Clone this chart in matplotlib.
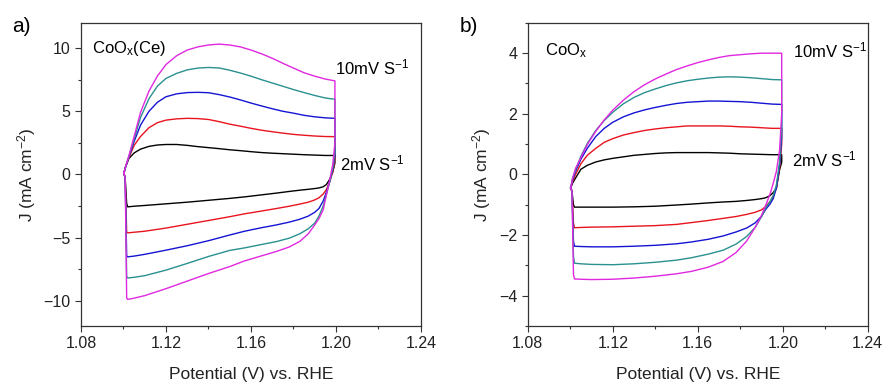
import matplotlib
matplotlib.use("Agg")
import matplotlib.pyplot as plt
from matplotlib.ticker import MultipleLocator

plt.rcParams["font.family"] = ["Liberation Sans", "DejaVu Sans"]
plt.rcParams["mathtext.default"] = "regular"

# potential grid for the anodic (forward) and cathodic (reverse) sweeps, V vs. RHE
V_UP = [1.1002, 1.101, 1.1025, 1.105, 1.108, 1.112, 1.116, 1.12, 1.125, 1.13,
        1.135, 1.14, 1.145, 1.15, 1.155, 1.16, 1.165, 1.17, 1.175, 1.18,
        1.185, 1.19, 1.195, 1.1995]
V_DN = [1.1995, 1.1985, 1.197, 1.1955, 1.194, 1.192, 1.19, 1.187, 1.183, 1.178,
        1.172, 1.165, 1.157, 1.15, 1.14, 1.13, 1.12, 1.11, 1.105, 1.102,
        1.1015, 1.1008]

SCAN_RATES = [2, 4, 6, 8, 10]  # mV/s
COLORS = ["#000000", "#e8141e", "#1414d2", "#2a9090", "#e028e0"]

# CoOx(Ce), current density in mA cm-2
a_up_2 = [0.1, 0.6, 1.25, 1.7, 2.0, 2.22, 2.33, 2.37, 2.37, 2.3, 2.2, 2.12,
          2.04, 1.95, 1.88, 1.8, 1.73, 1.68, 1.64, 1.6, 1.56, 1.53, 1.5, 1.5]
a_up_4 = [0.1, 0.6, 1.3, 2.3, 3.0, 3.7, 4.1, 4.3, 4.4, 4.44, 4.42, 4.35,
          4.18, 3.98, 3.82, 3.65, 3.5, 3.38, 3.27, 3.17, 3.1, 3.04, 3.0, 2.99]
a_up_6 = [0.1, 0.6, 1.35, 2.6, 3.9, 5.0, 5.72, 6.15, 6.38, 6.48, 6.5, 6.47,
          6.32, 6.13, 5.9, 5.65, 5.42, 5.2, 5.0, 4.85, 4.68, 4.56, 4.48, 4.44]
a_up_8 = [0.1, 0.6, 1.4, 2.8, 4.5, 6.0, 7.0, 7.6, 8.0, 8.28, 8.42, 8.47,
          8.43, 8.25, 8.03, 7.78, 7.5, 7.24, 6.98, 6.72, 6.48, 6.25, 6.05, 5.95]
a_up_10 = [0.1, 0.6, 1.45, 3.0, 4.9, 6.6, 7.8, 8.7, 9.4, 9.85, 10.1, 10.25,
           10.32, 10.25, 10.1, 9.85, 9.55, 9.2, 8.8, 8.42, 8.05, 7.78, 7.55, 7.41]

a_dn_2 = [0.9, 0.2, -0.4, -0.8, -0.98, -1.07, -1.12, -1.18, -1.25, -1.35, -1.48,
          -1.62, -1.78, -1.9, -2.05, -2.2, -2.33, -2.46, -2.52, -2.57, -2.3, -0.3]
a_dn_4 = [1.2, 0.2, -0.6, -1.2, -1.55, -1.85, -2.02, -2.2, -2.35, -2.52, -2.7,
          -2.9, -3.12, -3.35, -3.65, -3.95, -4.25, -4.5, -4.58, -4.63, -4.55, -0.3]
a_dn_6 = [1.5, 0.4, -0.6, -1.4, -2.1, -2.7, -3.0, -3.3, -3.55, -3.78, -4.0,
          -4.22, -4.5, -4.8, -5.25, -5.65, -6.0, -6.33, -6.47, -6.53, -6.45, -0.3]
a_dn_8 = [1.8, 0.5, -0.6, -1.6, -2.5, -3.3, -3.85, -4.3, -4.7, -5.05, -5.32,
          -5.55, -5.82, -6.02, -6.5, -7.05, -7.58, -8.02, -8.15, -8.2, -8.1, -0.3]
a_dn_10 = [2.5, 0.8, -0.5, -1.6, -2.8, -3.5, -4.0, -4.7, -5.3, -5.75, -6.1,
           -6.45, -6.85, -7.3, -7.85, -8.45, -9.05, -9.6, -9.8, -9.9, -9.8, -0.3]

# CoOx
b_up_2 = [-0.45, -0.3, -0.12, 0.17, 0.3, 0.41, 0.48, 0.53, 0.58, 0.63, 0.66, 0.69,
          0.71, 0.72, 0.72, 0.72, 0.72, 0.71, 0.7, 0.68, 0.67, 0.66, 0.65, 0.65]
b_up_4 = [-0.45, -0.25, 0.0, 0.35, 0.63, 0.86, 1.06, 1.18, 1.3, 1.38, 1.45, 1.5,
          1.54, 1.57, 1.6, 1.6, 1.6, 1.6, 1.59, 1.57, 1.56, 1.54, 1.52, 1.52]
b_up_6 = [-0.45, -0.2, 0.1, 0.5, 0.86, 1.25, 1.52, 1.72, 1.9, 2.03, 2.13, 2.21,
          2.28, 2.34, 2.38, 2.4, 2.42, 2.42, 2.41, 2.4, 2.38, 2.35, 2.32, 2.31]
b_up_8 = [-0.45, -0.15, 0.15, 0.6, 1.02, 1.45, 1.78, 2.05, 2.33, 2.54, 2.7, 2.82,
          2.93, 3.02, 3.09, 3.14, 3.18, 3.21, 3.22, 3.21, 3.19, 3.16, 3.13, 3.12]
b_up_10 = [-0.45, -0.15, 0.2, 0.55, 0.98, 1.42, 1.8, 2.12, 2.45, 2.73, 2.96, 3.15,
           3.31, 3.46, 3.58, 3.69, 3.78, 3.86, 3.92, 3.95, 3.98, 4.0, 4.0, 4.0]

b_dn_2 = [0.4, 0.15, -0.45, -0.6, -0.7, -0.77, -0.8, -0.83, -0.86, -0.89, -0.91,
          -0.94, -0.98, -1.01, -1.05, -1.07, -1.08, -1.08, -1.08, -1.08, -1.0, -0.55]
b_dn_4 = [1.0, 0.2, -0.45, -0.72, -0.9, -1.06, -1.17, -1.25, -1.32, -1.39, -1.45,
          -1.52, -1.59, -1.65, -1.69, -1.71, -1.73, -1.74, -1.75, -1.76, -1.6, -0.55]
b_dn_6 = [1.2, 0.3, -0.45, -0.8, -0.98, -1.15, -1.38, -1.6, -1.77, -1.9, -2.03,
          -2.14, -2.23, -2.29, -2.34, -2.37, -2.39, -2.39, -2.38, -2.37, -2.2, -0.55]
b_dn_8 = [1.5, 0.4, -0.35, -0.7, -0.9, -1.1, -1.4, -1.75, -2.05, -2.3, -2.5,
          -2.63, -2.75, -2.83, -2.9, -2.95, -2.98, -2.97, -2.95, -2.93, -2.7, -0.55]
b_dn_10 = [2.0, 0.8, 0.1, -0.3, -0.65, -1.02, -1.35, -1.75, -2.2, -2.58, -2.87,
           -3.06, -3.2, -3.28, -3.36, -3.42, -3.46, -3.47, -3.46, -3.45, -3.3, -0.55]

A_UP = [a_up_2, a_up_4, a_up_6, a_up_8, a_up_10]
A_DN = [a_dn_2, a_dn_4, a_dn_6, a_dn_8, a_dn_10]
B_UP = [b_up_2, b_up_4, b_up_6, b_up_8, b_up_10]
B_DN = [b_dn_2, b_dn_4, b_dn_6, b_dn_8, b_dn_10]


def draw_cv(ax, ups, dns):
    # forward sweep, reverse sweep, then close the loop
    for up, dn, c in zip(ups, dns, COLORS):
        v = V_UP + V_DN + [V_UP[0]]
        j = up + dn + [up[0]]
        ax.plot(v, j, color=c, lw=1.0)


def style_axes(ax, ylim, ymajor, yminor):
    ax.set_xlim(1.08, 1.24)
    ax.set_ylim(*ylim)
    ax.xaxis.set_major_locator(MultipleLocator(0.04))
    ax.xaxis.set_minor_locator(MultipleLocator(0.02))
    ax.yaxis.set_major_locator(MultipleLocator(ymajor))
    ax.yaxis.set_minor_locator(MultipleLocator(yminor))
    ax.xaxis.set_major_formatter(plt.FuncFormatter(lambda x, p: f"{x:.2f}"))
    ax.tick_params(which="major", direction="out", length=4, width=0.8,
                   labelsize=11.5, colors="#333333", labelcolor="#222222")
    ax.tick_params(which="minor", direction="out", length=2.5, width=0.8,
                   colors="#333333")
    for s in ax.spines.values():
        s.set_linewidth(0.9)
        s.set_color("#333333")
    ax.set_xlabel("Potential (V) vs. RHE", fontsize=12.5, color="#222222",
                  labelpad=11)
    ax.set_ylabel("J (mA cm$^{-2}$)", fontsize=12.5, color="#222222", labelpad=4)


fig = plt.figure(figsize=(8.9, 3.88), dpi=100)
ax_a = fig.add_axes([0.091, 0.160, 0.382, 0.781])
ax_b = fig.add_axes([0.593, 0.160, 0.382, 0.781])

draw_cv(ax_a, A_UP, A_DN)
style_axes(ax_a, (-12, 12), 5, 2.5)
ax_a.text(1.0852, 10.0, "CoO$_x$(Ce)", fontsize=12, va="center", ha="left")
ax_a.text(1.1995, 8.5, "10mV S$^{-1}$", fontsize=12, va="center", ha="left")
ax_a.text(1.2020, 0.9, "2mV S$^{-1}$", fontsize=12, va="center", ha="left")

draw_cv(ax_b, B_UP, B_DN)
style_axes(ax_b, (-5, 5), 2, 1)
ax_b.text(1.0881, 4.1, "CoO$_x$", fontsize=12, va="center", ha="left")
ax_b.text(1.2048, 4.1, "10mV S$^{-1}$", fontsize=12, va="center", ha="left")
ax_b.text(1.2043, 0.5, "2mV S$^{-1}$", fontsize=12, va="center", ha="left")

fig.text(0.014, 0.918, "a)", fontsize=15)
fig.text(0.517, 0.918, "b)", fontsize=15)

fig.savefig("out.png", dpi=100)
